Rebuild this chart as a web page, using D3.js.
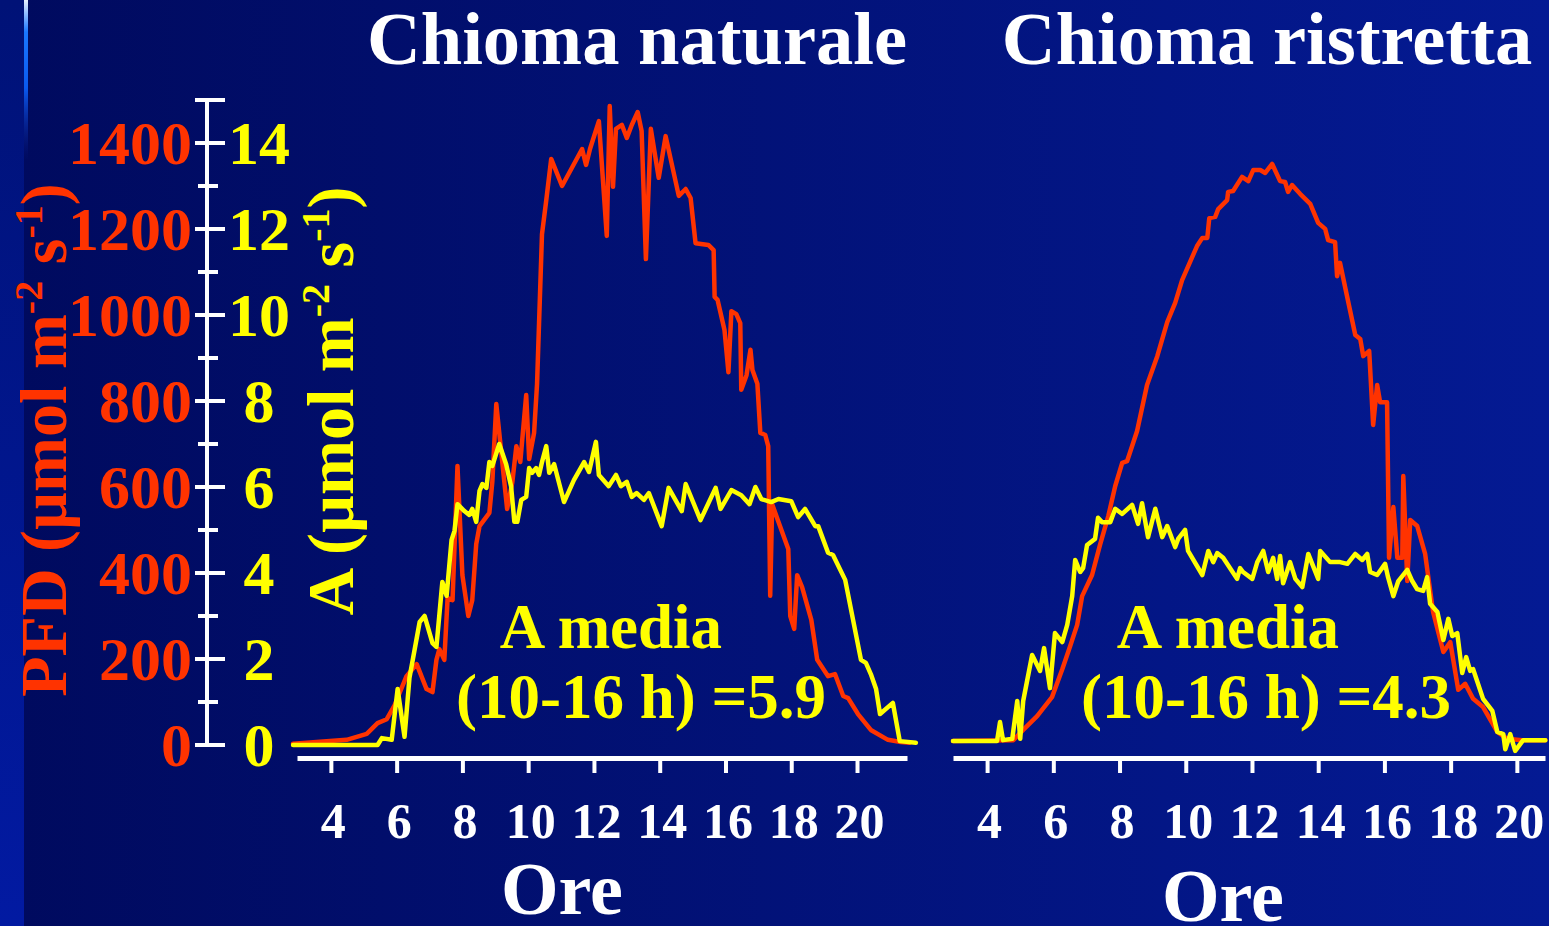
<!DOCTYPE html>
<html lang="it">
  <head>
    <meta charset="UTF-8" />
    <title>Chioma naturale / Chioma ristretta</title>
    <script src="https://d3js.org/d3.v7.min.js"></script>
    <style>
      html, body { margin: 0; padding: 0; background: #000b60; overflow: hidden; }
      text { font-family: 'Liberation Serif', 'Times New Roman', serif; font-weight: bold; }
    </style>
  </head>
  <body>
    <svg width="1549" height="926"></svg>

    <script>
      // Axis ticks
      const xTicks = [4, 6, 8, 10, 12, 14, 16, 18, 20];
      const pfdTicks = [0, 200, 400, 600, 800, 1000, 1200, 1400];
      const pfdMinor = [100, 300, 500, 700, 900, 1100, 1300];
      const aTicks = [0, 2, 4, 6, 8, 10, 12, 14];

      // Chioma naturale - PFD (red)
      const natPfdHours = [2.85, 4.48, 5.09, 5.42, 5.7, 5.94, 6.3, 6.61, 6.91, 7.09, 7.21, 7.3, 7.45, 7.55, 7.7, 7.85, 8.0, 8.18, 8.3, 8.42, 8.52, 8.82, 8.91, 9.03, 9.36, 9.52, 9.64, 9.76, 9.94, 10.03, 10.18, 10.27, 10.42, 10.55, 10.7, 11.03, 11.64, 11.76, 11.88, 12.15, 12.39, 12.48, 12.58, 12.67, 12.85, 13.0, 13.15, 13.33, 13.45, 13.58, 13.73, 13.97, 14.18, 14.58, 14.79, 14.94, 15.09, 15.48, 15.64, 15.67, 15.76, 15.97, 16.09, 16.18, 16.33, 16.45, 16.48, 16.64, 16.76, 16.82, 16.97, 17.06, 17.21, 17.3, 17.36, 17.42, 17.61, 17.91, 17.97, 18.09, 18.18, 18.33, 18.61, 18.79, 19.12, 19.33, 19.58, 19.73, 20.03, 20.42, 20.94, 21.33, 21.6];
      const natPfd = [3, 12, 26, 51, 60, 93, 160, 188, 130, 123, 198, 223, 198, 342, 337, 649, 395, 300, 337, 467, 509, 540, 612, 793, 549, 612, 695, 658, 814, 665, 726, 840, 1188, 1267, 1363, 1300, 1386, 1349, 1386, 1451, 1184, 1486, 1298, 1433, 1442, 1412, 1442, 1472, 1428, 1130, 1433, 1319, 1416, 1277, 1293, 1272, 1167, 1163, 1151, 1042, 1035, 965, 867, 1009, 1002, 981, 826, 860, 919, 872, 840, 726, 721, 695, 347, 560, 519, 456, 300, 270, 395, 367, 291, 198, 160, 165, 114, 109, 72, 35, 12, 7, 5];

      // Chioma naturale - A (yellow)
      const natAHours = [2.85, 5.42, 5.55, 5.85, 6.03, 6.24, 6.39, 6.7, 6.85, 7.09, 7.21, 7.39, 7.52, 7.67, 7.76, 7.85, 8.06, 8.21, 8.3, 8.42, 8.52, 8.61, 8.73, 8.82, 8.91, 9.12, 9.33, 9.48, 9.58, 9.67, 9.79, 9.94, 10.03, 10.12, 10.24, 10.33, 10.42, 10.55, 10.64, 10.79, 11.09, 11.39, 11.7, 11.85, 12.06, 12.15, 12.45, 12.67, 12.82, 13.0, 13.15, 13.3, 13.52, 13.67, 14.06, 14.27, 14.67, 14.79, 15.24, 15.7, 15.85, 16.18, 16.48, 16.73, 16.91, 17.09, 17.39, 17.61, 18.0, 18.21, 18.42, 18.73, 18.82, 19.12, 19.27, 19.64, 19.88, 20.12, 20.27, 20.42, 20.58, 20.7, 21.09, 21.3, 21.79];
      const natA = [0, 0, 0.16, 0.12, 1.3, 0.19, 1.56, 2.86, 3.0, 2.37, 2.28, 3.79, 3.47, 4.77, 4.98, 5.6, 5.44, 5.35, 5.49, 5.19, 5.91, 6.07, 5.98, 6.58, 6.49, 7.0, 6.53, 6.02, 5.19, 5.19, 5.7, 5.77, 6.44, 6.33, 6.44, 6.28, 6.58, 6.95, 6.33, 6.53, 5.65, 6.16, 6.58, 6.35, 7.05, 6.28, 6.02, 6.28, 6.02, 6.12, 5.77, 5.86, 5.7, 5.86, 5.09, 5.98, 5.44, 6.07, 5.23, 5.98, 5.49, 5.93, 5.81, 5.6, 6.0, 5.72, 5.65, 5.72, 5.67, 5.3, 5.49, 5.09, 5.09, 4.47, 4.42, 3.84, 2.91, 1.98, 1.91, 1.65, 1.3, 0.72, 0.98, 0.09, 0.05];

      // Chioma ristretta - PFD (red)
      const ristPfdHours = [2.97, 4.79, 5.09, 5.51, 5.96, 6.27, 6.51, 6.72, 6.87, 7.17, 7.41, 7.66, 7.87, 8.08, 8.23, 8.53, 8.83, 9.14, 9.44, 9.68, 9.89, 10.34, 10.5, 10.65, 10.71, 10.89, 10.98, 11.25, 11.28, 11.43, 11.7, 11.89, 12.04, 12.25, 12.4, 12.61, 12.85, 13.0, 13.09, 13.21, 13.46, 13.76, 14.0, 14.21, 14.3, 14.51, 14.57, 14.66, 14.82, 15.12, 15.27, 15.36, 15.54, 15.66, 15.78, 15.87, 16.08, 16.14, 16.27, 16.39, 16.54, 16.57, 16.69, 16.78, 16.99, 17.23, 17.47, 17.78, 17.99, 18.23, 18.44, 18.68, 18.98, 19.41, 19.71, 20.16, 20.86];
      const ristPfd = [0, 2, 26, 58, 102, 167, 221, 270, 337, 386, 456, 523, 593, 647, 651, 721, 828, 895, 974, 1019, 1072, 1151, 1170, 1170, 1216, 1219, 1237, 1258, 1277, 1279, 1312, 1302, 1328, 1328, 1321, 1342, 1302, 1300, 1277, 1293, 1272, 1249, 1205, 1191, 1165, 1160, 1081, 1112, 1053, 944, 935, 895, 907, 735, 828, 788, 788, 426, 544, 426, 426, 616, 372, 514, 500, 435, 300, 207, 230, 119, 133, 98, 79, 21, 5, 2, 2];

      // Chioma ristretta - A (yellow)
      const ristAHours = [2.97, 4.3, 4.39, 4.48, 4.76, 4.91, 5.0, 5.09, 5.36, 5.51, 5.6, 5.72, 5.9, 6.05, 6.27, 6.42, 6.57, 6.66, 6.81, 6.9, 7.02, 7.26, 7.35, 7.47, 7.72, 7.87, 8.08, 8.38, 8.56, 8.68, 8.86, 9.08, 9.29, 9.44, 9.68, 9.77, 9.98, 10.07, 10.5, 10.68, 10.83, 10.95, 11.13, 11.34, 11.55, 11.64, 11.73, 12.01, 12.16, 12.34, 12.49, 12.64, 12.76, 12.85, 12.94, 13.15, 13.31, 13.52, 13.7, 14.0, 14.06, 14.36, 14.66, 14.88, 15.12, 15.33, 15.48, 15.57, 15.78, 16.02, 16.11, 16.27, 16.42, 16.69, 16.84, 16.99, 17.17, 17.29, 17.38, 17.6, 17.78, 17.93, 18.05, 18.2, 18.35, 18.47, 18.59, 18.68, 18.98, 19.26, 19.41, 19.59, 19.65, 19.8, 19.95, 20.19, 20.86];
      const ristA = [0, 0, 0.44, 0.02, 0.05, 0.93, 0.05, 0.93, 2.0, 1.77, 1.63, 2.16, 1.23, 2.51, 2.3, 2.7, 3.37, 4.21, 3.93, 4.02, 4.56, 4.7, 5.19, 5.09, 5.09, 5.4, 5.28, 5.49, 5.05, 5.53, 4.74, 5.4, 4.74, 5.0, 4.51, 4.7, 4.91, 4.42, 3.86, 4.42, 4.16, 4.37, 4.26, 4.02, 3.77, 4.02, 3.93, 3.77, 4.16, 4.42, 3.93, 4.26, 3.77, 4.3, 3.67, 4.16, 3.77, 3.58, 4.35, 3.77, 4.42, 4.16, 4.16, 4.12, 4.35, 4.21, 4.35, 3.93, 3.86, 4.12, 3.81, 3.37, 3.72, 3.98, 3.72, 3.53, 3.49, 3.81, 3.19, 3.0, 2.35, 2.84, 2.44, 2.51, 1.58, 1.95, 1.63, 1.67, 0.98, 0.7, 0.21, 0.16, -0.19, 0.16, -0.23, 0.02, 0.02];

      const RED = '#ff3300';
      const YELLOW = '#ffff00';
      const WHITE = '#ffffff';

      const svg = d3.select('svg');
      const width = +svg.attr('width');
      const height = +svg.attr('height');

      // Background
      const defs = svg.append('defs');
      const bg = defs.append('linearGradient').attr('id', 'bg').attr('x1', 0).attr('x2', 1).attr('y1', 0).attr('y2', 0);
      bg.append('stop').attr('offset', '0%').attr('stop-color', '#000a5e');
      bg.append('stop').attr('offset', '100%').attr('stop-color', '#041a93');
      const strip = defs.append('linearGradient').attr('id', 'strip').attr('x1', 0).attr('x2', 0).attr('y1', 0).attr('y2', 1);
      strip.append('stop').attr('offset', '0%').attr('stop-color', '#001277');
      strip.append('stop').attr('offset', '100%').attr('stop-color', '#021aa2');
      const glow = defs.append('linearGradient').attr('id', 'glow').attr('x1', 0).attr('x2', 0).attr('y1', 0).attr('y2', 1);
      glow.append('stop').attr('offset', '0%').attr('stop-color', '#e8f0ff');
      glow.append('stop').attr('offset', '20%').attr('stop-color', '#1a78ff');
      glow.append('stop').attr('offset', '55%').attr('stop-color', '#0a5af0');
      glow.append('stop').attr('offset', '100%').attr('stop-color', '#0a1e9a').attr('stop-opacity', 0);

      svg.append('rect').attr('width', width).attr('height', height).attr('fill', 'url(#bg)');
      svg.append('rect').attr('width', 24).attr('height', height).attr('fill', 'url(#strip)');
      svg.append('rect').attr('x', 24).attr('width', 4).attr('height', 160).attr('fill', 'url(#glow)');

      // Scales
      const xNat = d3.scaleLinear().domain([2.97, 21.52]).range([297, 907]);
      const xRist = d3.scaleLinear().domain([2.97, 20.85]).range([953, 1545]);
      const yPfd = d3.scaleLinear().domain([0, 1500]).range([745, 100]);
      const yA = d3.scaleLinear().domain([0, 15]).range([745, 100]);
      const yPfdR = d3.scaleLinear().domain([0, 1500]).range([741, 96]);
      const yAR = d3.scaleLinear().domain([0, 15]).range([741, 96]);

      // Titles
      svg.append('text').attr('x', 637).attr('y', 64).attr('text-anchor', 'middle')
        .attr('font-size', 74.5).attr('fill', WHITE).text('Chioma naturale');
      svg.append('text').attr('x', 1267).attr('y', 64).attr('text-anchor', 'middle')
        .attr('font-size', 74.5).attr('fill', WHITE).text('Chioma ristretta');

      // Y axis (shared, left panel only)
      const axisX = 207;
      const yAxis = svg.append('g');
      yAxis.append('line')
        .attr('x1', axisX).attr('x2', axisX)
        .attr('y1', yPfd(0)).attr('y2', yPfd(1500))
        .attr('stroke', WHITE).attr('stroke-width', 4);
      yAxis.selectAll('.major').data(pfdTicks.concat([1500])).enter().append('line')
        .attr('x1', axisX - 12).attr('x2', axisX + 18)
        .attr('y1', (d) => yPfd(d)).attr('y2', (d) => yPfd(d))
        .attr('stroke', WHITE).attr('stroke-width', 4);
      yAxis.selectAll('.minor').data(pfdMinor).enter().append('line')
        .attr('x1', axisX - 9).attr('x2', axisX + 11)
        .attr('y1', (d) => yPfd(d)).attr('y2', (d) => yPfd(d))
        .attr('stroke', WHITE).attr('stroke-width', 4);
      yAxis.selectAll('.pfdlab').data(pfdTicks).enter().append('text')
        .attr('x', axisX - 15).attr('y', (d) => yPfd(d)).attr('dy', '0.34em')
        .attr('text-anchor', 'end').attr('font-size', 62).attr('fill', RED)
        .text((d) => d);
      yAxis.selectAll('.alab').data(aTicks).enter().append('text')
        .attr('x', axisX + 52).attr('y', (d) => yA(d)).attr('dy', '0.34em')
        .attr('text-anchor', 'middle').attr('font-size', 62).attr('fill', YELLOW)
        .text((d) => d);

      // Y titles with superscripts
      function unitLabel(sel, prefix) {
        sel.append('tspan').text(prefix + ' (\u00b5mol m');
        sel.append('tspan').attr('font-size', 40).attr('dy', -24).text('-2');
        sel.append('tspan').attr('font-size', 66).attr('dy', 24).text(' s');
        sel.append('tspan').attr('font-size', 40).attr('dy', -24).text('-1');
        sel.append('tspan').attr('font-size', 66).attr('dy', 24).text(')');
      }
      svg.append('text').attr('transform', 'translate(66,440) rotate(-90)')
        .attr('text-anchor', 'middle').attr('font-size', 66).attr('fill', RED)
        .call(unitLabel, 'PFD');
      svg.append('text').attr('transform', 'translate(353,401) rotate(-90)')
        .attr('text-anchor', 'middle').attr('font-size', 66).attr('fill', YELLOW)
        .call(unitLabel, 'A');

      // X axes
      function drawXAxis(x, labelX, labelY) {
        const g = svg.append('g').attr('transform', 'translate(0,758)')
          .call(d3.axisBottom(x).tickValues(xTicks).tickSize(15).tickSizeOuter(0));
        g.select('.domain').attr('stroke', WHITE).attr('stroke-width', 5);
        g.selectAll('.tick line').attr('stroke', WHITE).attr('stroke-width', 4);
        g.selectAll('.tick text')
          .attr('y', 80).attr('dy', 0).attr('dx', 2)
          .attr('font-size', 50).attr('font-family', null).attr('fill', WHITE);
        g.attr('font-family', null);
        svg.append('text').attr('x', labelX).attr('y', labelY).attr('text-anchor', 'middle')
          .attr('font-size', 74).attr('fill', WHITE).text('Ore');
      }
      drawXAxis(xNat, 562, 914);
      drawXAxis(xRist, 1223, 921);

      // Lines
      function drawLine(x, y, hours, values, color) {
        const line = d3.line().x((d) => x(d[0])).y((d) => y(d[1]));
        svg.append('path')
          .datum(d3.zip(hours, values))
          .attr('d', line)
          .attr('fill', 'none')
          .attr('stroke', color)
          .attr('stroke-width', 4.5)
          .attr('stroke-linejoin', 'round')
          .attr('stroke-linecap', 'round');
      }
      drawLine(xNat, yPfd, natPfdHours, natPfd, RED);
      drawLine(xNat, yA, natAHours, natA, YELLOW);
      drawLine(xRist, yPfdR, ristPfdHours, ristPfd, RED);
      drawLine(xRist, yAR, ristAHours, ristA, YELLOW);

      // Annotations
      const notes = [
        { x: 611, text: 'A media', y: 648 },
        { x: 641, text: '(10-16 h) =5.9', y: 718 },
        { x: 1228, text: 'A media', y: 648 },
        { x: 1266, text: '(10-16 h) =4.3', y: 718 },
      ];
      svg.selectAll('.note').data(notes).enter().append('text')
        .attr('x', (d) => d.x).attr('y', (d) => d.y)
        .attr('text-anchor', 'middle').attr('font-size', 63).attr('fill', YELLOW)
        .text((d) => d.text);
    </script>
  </body>
</html>
